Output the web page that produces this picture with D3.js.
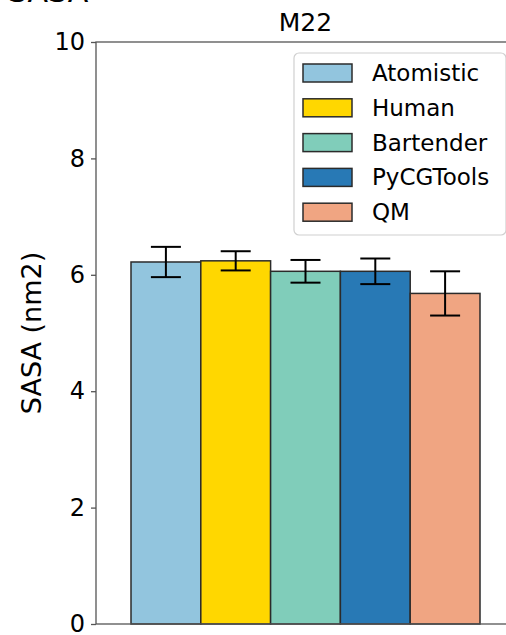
<!DOCTYPE html>
<html>
<head>
<meta charset="utf-8">
<script src="https://cdn.jsdelivr.net/npm/d3@7"></script>
<style>
  body { margin: 0; background: #fff; }
  text { font-family: "DejaVu Sans", sans-serif; fill: #000; }
</style>
</head>
<body>
<div id="chart"></div>
<script>
// values
const methods = ["Atomistic", "Human", "Bartender", "PyCGTools", "QM"]
const sasa = [6.22, 6.24, 6.06, 6.06, 5.68]
const sasaErr = [0.26, 0.165, 0.195, 0.22, 0.38]
const colors = ["#92c5de", "#ffd700", "#80cdba", "#2879b5", "#f0a582"]
const yTicks = [0, 2, 4, 6, 8, 10]

const params = {
  fullWidth: 506,
  fullHeight: 635,
  left: 96,
  top: 42,
  plotWidth: 419,
  plotHeight: 582
}

const svg = d3.select("#chart").append("svg")
  .attr("width", params.fullWidth)
  .attr("height", params.fullHeight)

// suptitle, mostly cut off above the picture
svg.append("text")
  .attr("x", 8).attr("y", 2)
  .attr("font-size", "30px")
  .text("SASA")

const g = svg.append("g")
  .attr("transform", `translate(${params.left},${params.top})`)

const x = d3.scaleBand()
  .domain(methods)
  .range([35, 384])
  .padding(0)

const y = d3.scaleLinear()
  .domain([0, 10])
  .range([params.plotHeight, 0])

// bars
g.selectAll("rect.bar")
  .data(methods)
  .enter().append("rect")
  .attr("class", "bar")
  .attr("x", d => x(d))
  .attr("width", x.bandwidth())
  .attr("y", (d, i) => y(sasa[i]))
  .attr("height", (d, i) => y(0) - y(sasa[i]))
  .attr("fill", (d, i) => colors[i])
  .attr("stroke", "#2b2b2b")
  .attr("stroke-width", 1.5)

// error bars
const capHalf = 15
const err = g.selectAll("g.err")
  .data(methods)
  .enter().append("g")
  .attr("class", "err")
  .attr("stroke", "#000")
  .attr("stroke-width", 2)
err.append("line")
  .attr("x1", d => x(d) + x.bandwidth() / 2)
  .attr("x2", d => x(d) + x.bandwidth() / 2)
  .attr("y1", (d, i) => y(sasa[i] - sasaErr[i]))
  .attr("y2", (d, i) => y(sasa[i] + sasaErr[i]))
err.append("line")
  .attr("x1", d => x(d) + x.bandwidth() / 2 - capHalf)
  .attr("x2", d => x(d) + x.bandwidth() / 2 + capHalf)
  .attr("y1", (d, i) => y(sasa[i] + sasaErr[i]))
  .attr("y2", (d, i) => y(sasa[i] + sasaErr[i]))
err.append("line")
  .attr("x1", d => x(d) + x.bandwidth() / 2 - capHalf)
  .attr("x2", d => x(d) + x.bandwidth() / 2 + capHalf)
  .attr("y1", (d, i) => y(sasa[i] - sasaErr[i]))
  .attr("y2", (d, i) => y(sasa[i] - sasaErr[i]))

// y axis
const yAxis = g.append("g")
  .call(d3.axisLeft(y).tickValues(yTicks).tickSize(5).tickPadding(6))
yAxis.select(".domain").remove()
yAxis.selectAll(".tick line").attr("stroke", "#555").attr("stroke-width", 1.3)
yAxis.selectAll(".tick text")
  .attr("font-size", "24px")
  .attr("font-family", "DejaVu Sans, sans-serif")
  .attr("fill", "#000")

// spines (left, top, bottom; right is outside the picture)
const spine = g.append("g").attr("stroke", "#555").attr("stroke-width", 1.3).attr("fill", "none")
spine.append("rect")
  .attr("x", 0).attr("y", 0)
  .attr("width", params.plotWidth)
  .attr("height", params.plotHeight)

// title and y label
g.append("text")
  .attr("x", params.plotWidth / 2)
  .attr("y", -11)
  .attr("text-anchor", "middle")
  .attr("font-size", "25px")
  .text("M22")

g.append("text")
  .attr("transform", "rotate(-90)")
  .attr("x", -params.plotHeight / 2)
  .attr("y", -55)
  .attr("text-anchor", "middle")
  .attr("font-size", "27px")
  .text("SASA (nm2)")

// legend
const lx = 294 - params.left, ly = 53 - params.top
const legend = g.append("g").attr("transform", `translate(${lx},${ly})`)
legend.append("rect")
  .attr("width", 212).attr("height", 182)
  .attr("rx", 5)
  .attr("fill", "#fff").attr("fill-opacity", 0.8)
  .attr("stroke", "#d0d0d0").attr("stroke-width", 1.2)
const rows = legend.selectAll("g.row")
  .data(methods)
  .enter().append("g")
  .attr("class", "row")
  .attr("transform", (d, i) => `translate(0,${20 + i * 34.8})`)
rows.append("rect")
  .attr("x", 9).attr("y", -9)
  .attr("width", 49).attr("height", 18)
  .attr("fill", (d, i) => colors[i])
  .attr("stroke", "#2b2b2b").attr("stroke-width", 1.5)
rows.append("text")
  .attr("x", 78).attr("y", 8)
  .attr("font-size", "23px")
  .text(d => d)
</script>
</body>
</html>
